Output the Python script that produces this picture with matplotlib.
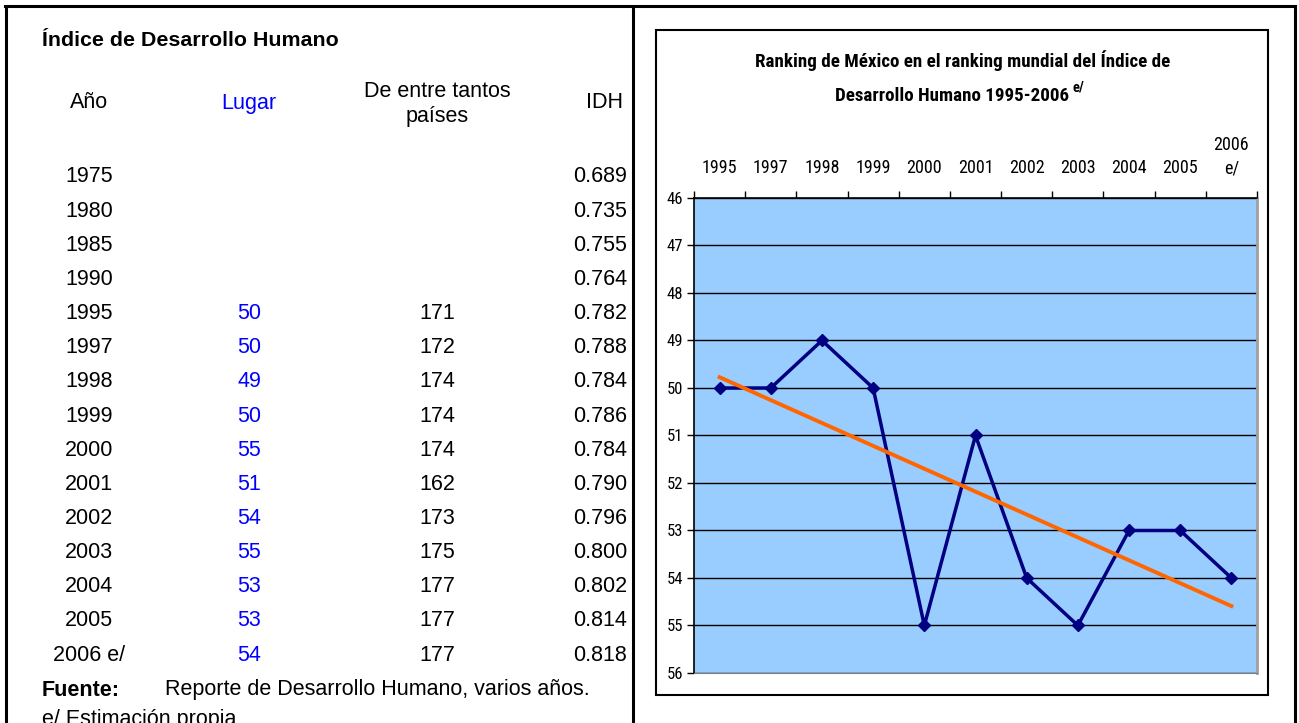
import numpy as np
import matplotlib
matplotlib.use("Agg")
import matplotlib.pyplot as plt
from matplotlib.patches import Rectangle

# datos de la tabla
anios = ["1975", "1980", "1985", "1990", "1995", "1997", "1998", "1999",
         "2000", "2001", "2002", "2003", "2004", "2005", "2006 e/"]
lugar = [None, None, None, None, 50, 50, 49, 50, 55, 51, 54, 55, 53, 53, 54]
paises = [None, None, None, None, 171, 172, 174, 174, 174, 162, 173, 175, 177, 177, 177]
idh = [0.689, 0.735, 0.755, 0.764, 0.782, 0.788, 0.784, 0.786, 0.784,
       0.790, 0.796, 0.800, 0.802, 0.814, 0.818]

# datos de la grafica (1995-2006)
cats = ["1995", "1997", "1998", "1999", "2000", "2001", "2002", "2003",
        "2004", "2005", "2006\ne/"]
ranking = [50, 50, 49, 50, 55, 51, 54, 55, 53, 53, 54]

W, H = 1299, 723
fig = plt.figure(figsize=(W / 100, H / 100), dpi=100)
fig.patch.set_facecolor("white")

# capa de fondo en pixeles
bg = fig.add_axes([0, 0, 1, 1])
bg.set_xlim(0, W)
bg.set_ylim(H, 0)
bg.axis("off")

tf = ["Liberation Sans", "DejaVu Sans"]
nf = ["Liberation Sans Narrow", "Roboto Condensed", "Liberation Sans"]
fs = 15.5

# bordes de la hoja
for x in (6, 633, 1295):
    bg.plot([x, x], [5, H], color="black", lw=2.2, solid_capstyle="butt")
bg.plot([5, 1295], [6, 6], color="black", lw=2.2)

# tabla
c_anio, c_lugar, c_pais, c_idh = 89, 249, 437, 627
bg.text(42, 41, "Índice de Desarrollo Humano", fontsize=15.4, fontweight="bold",
        family=tf, ha="left", va="center")
bg.text(c_anio, 103, "Año", fontsize=fs, family=tf, ha="center", va="center")
bg.text(c_lugar, 103, "Lugar", fontsize=fs, family=tf, ha="center", va="center", color="#0000FF")
bg.text(c_pais, 104, "De entre tantos\npaíses", fontsize=fs, family=tf, ha="center",
        va="center", linespacing=1.25)
bg.text(c_idh - 4, 103, "IDH", fontsize=fs, family=tf, ha="right", va="center")

y0, dy = 177, 34.15
for i, a in enumerate(anios):
    y = y0 + i * dy
    bg.text(c_anio, y, a, fontsize=fs, family=tf, ha="center", va="center")
    if lugar[i] is not None:
        bg.text(c_lugar, y, str(lugar[i]), fontsize=fs, family=tf, ha="center",
                va="center", color="#0000FF")
    if paises[i] is not None:
        bg.text(c_pais, y, str(paises[i]), fontsize=fs, family=tf, ha="center", va="center")
    bg.text(c_idh, y, f"{idh[i]:.3f}", fontsize=fs, family=tf, ha="right", va="center")

bg.text(42, 690, "Fuente:", fontsize=fs, fontweight="bold", family=tf, ha="left", va="center")
bg.text(165, 690, "Reporte de Desarrollo Humano, varios años.", fontsize=fs, family=tf,
        ha="left", va="center")
bg.text(42, 720, "e/ Estimación propia", fontsize=fs, family=tf, ha="left", va="center")

# caja de la grafica
bg.add_patch(Rectangle((656, 30), 612, 665, fill=False, ec="black", lw=1.5))
bg.text(963, 61, "Ranking de México en el ranking mundial del Índice de", fontsize=13.7,
        fontweight="bold", family=nf, ha="center", va="center")
bg.text(952, 96, "Desarrollo Humano 1995-2006", fontsize=13.7, fontweight="bold",
        family=nf, ha="center", va="center")
bg.text(1073, 87, "e/", fontsize=10.5, fontweight="bold", family=nf, ha="left", va="center")

# area de trazado
pl, pr, pt, pb = 694, 1257, 198, 673
ax = fig.add_axes([pl / W, 1 - pb / H, (pr - pl) / W, (pb - pt) / H])
ax.set_facecolor("#99CCFF")
x = np.arange(len(cats))
ax.set_xlim(-0.5, len(cats) - 0.5)
ax.set_ylim(56, 46)
ax.set_yticks(np.arange(46, 57))
ax.yaxis.grid(True, color="black", lw=1.0)
ax.set_axisbelow(True)

ax.plot(x, ranking, color="#000080", lw=2.5, marker="D", ms=6, zorder=3)
m, b = np.polyfit(x, ranking, 1)
ax.plot(x, m * x + b, color="#FF6600", lw=2.8, zorder=4)

ax.xaxis.tick_top()
ax.set_xticks(x)
ax.set_xticklabels(cats, fontsize=13, family=nf, linespacing=1.4)
ax.set_xticks(np.arange(-0.5, len(cats)), minor=True)
ax.tick_params(axis="x", which="major", length=0, pad=15)
ax.tick_params(axis="x", which="minor", length=5, direction="out", width=1)
ax.tick_params(axis="y", length=5, direction="out", width=1, labelsize=12, pad=3)
for lab in ax.get_yticklabels():
    lab.set_family(nf)

for s in ("top", "left"):
    ax.spines[s].set_color("black")
    ax.spines[s].set_linewidth(1.2)
ax.spines["bottom"].set_color("#808080")
ax.spines["right"].set_color("#A0A0A0")
ax.spines["right"].set_linewidth(2)

fig.savefig("out.png", dpi=100)
